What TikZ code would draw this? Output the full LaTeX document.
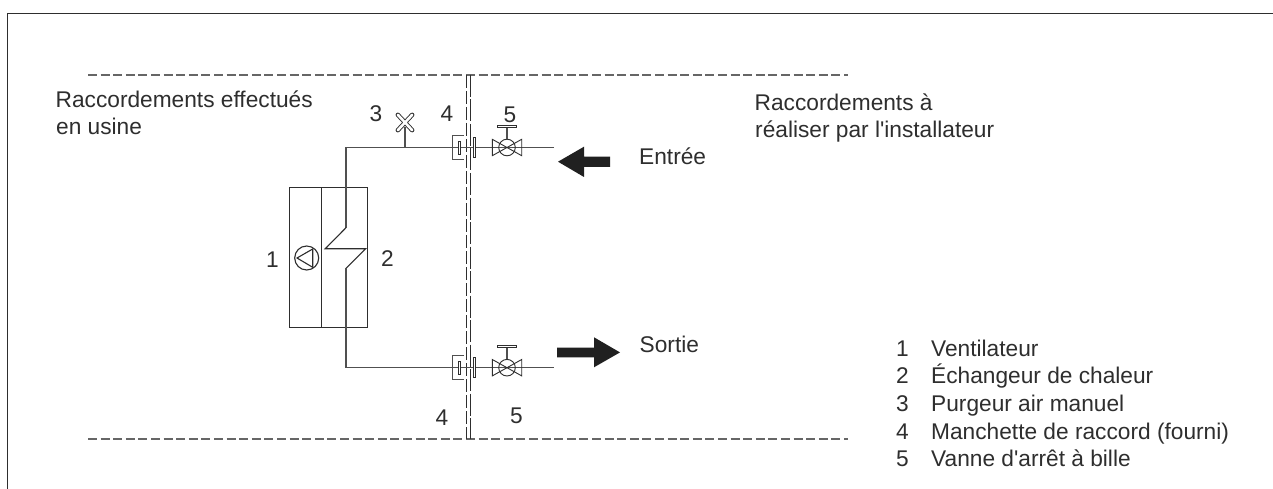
\documentclass[tikz,border=0pt]{standalone}
\usepackage{fontspec}
\setmainfont[Ligatures=TeXOff]{Liberation Sans}
\definecolor{ink}{HTML}{2E2E2E}
\definecolor{pipe}{HTML}{505050}
\definecolor{dash}{HTML}{666666}
\tikzset{
  lab/.style={inner sep=0pt,anchor=base west,text=ink,font=\fontsize{22.7pt}{26pt}\selectfont},
  lin/.style={draw=ink,line width=1.1pt},
  pipeline/.style={draw=pipe,line width=1.3pt},
  sep/.style={draw=dash,line width=1.1pt,dash pattern=on 9pt off 3.6pt},
  vsep/.style={draw=ink,line width=1.1pt,dash pattern=on 13pt off 3pt},
  thin/.style={draw=ink,line width=0.9pt},
  fat/.style={fill=ink!70!black,draw=none}
}
\newcommand{\valve}[2]{%
  \draw[thin] (#1-14.7,#2-8.2) -- (#1+14.7,#2+8.2) -- (#1+14.7,#2-8.2) -- (#1-14.7,#2+8.2) -- cycle;
  \draw[thin] (#1,#2) circle[radius=8.3];
  \draw[pipeline] (#1,#2-8.3) -- (#1,#2-21);
  \draw[thin,fill=white] (#1-9.2,#2-22) rectangle (#1+9.2,#2-20);
}
\newcommand{\fitting}[2]{%
  \draw[line width=1.1pt,draw=pipe] (#1+11.5,#2-12) -- (#1,#2-12) -- (#1,#2+12) -- (#1+11.5,#2+12);
  \draw[thin,fill=white] (#1+5.5,#2-6.5) rectangle (#1+7.5,#2+6.5);
  \draw[thin,fill=white] (#1+20.5,#2-9.8) rectangle (#1+23,#2+9.8);
}
\begin{document}
\begin{tikzpicture}[x=1pt,y=-1pt]
\useasboundingbox (0,0) rectangle (1273,489);
\fill[white] (0,0) rectangle (1273,489);
% frame
\coordinate (fa) at (7.5,489);
\coordinate (fb) at (7.5,13.5);
\coordinate (fc) at (1273,13.5);
\draw[line width=1.1pt,draw=ink] (fa) -- (fb) -- (fc);
% separators
\coordinate (tl) at (88,75); \coordinate (tr) at (848,75);
\coordinate (bl) at (88,439); \coordinate (br) at (848,439);
\draw[sep] (tl) -- (tr);
\draw[sep] (bl) -- (br);
\coordinate (v1a) at (466.5,75); \coordinate (v1b) at (466.5,439);
\coordinate (v2a) at (470,75); \coordinate (v2b) at (470,439);
\draw[vsep] (v1a) -- (v1b);
\draw[line width=1pt,draw=ink,dash pattern=on 22pt off 2.5pt] (v2a) -- (v2b);
% unit box
\node[draw=ink,line width=1.1pt,minimum width=78pt,minimum height=140pt,inner sep=0pt] (unit) at (328.5,257.5) {};
\coordinate (div1) at (321.5,187.5); \coordinate (div2) at (321.5,327.5);
\draw[lin] (div1) -- (div2);
% fan
\node[circle,draw=ink,line width=1.1pt,minimum size=24pt,inner sep=0pt] (fan) at (306.7,258) {};
\draw[lin,line join=miter] (297,258) -- (312.7,249) -- (312.7,267.3) -- cycle;
% pipes
\coordinate (ptop) at (554,147.5); \coordinate (pc) at (346,147.5);
\draw[pipeline] (ptop) -- (pc) -- (346,227.7);
\draw[lin] (346,227.7) -- (325.3,248.7) -- (365.7,248.7) -- (346,268.3);
\coordinate (pbot) at (554,367.7); \coordinate (pd) at (346,367.7);
\draw[pipeline] (346,268.3) -- (pd) -- (pbot);
% vent
\coordinate (v0) at (405,147.5); \coordinate (v1) at (405,127);
\draw[pipeline] (v0) -- (v1);
\draw[ink,line width=4.4pt,line cap=round] (397.8,114.8) -- (412.2,130.2) (412.2,114.8) -- (397.8,130.2);
\draw[white,line width=2.6pt,line cap=round] (397.8,114.8) -- (412.2,130.2) (412.2,114.8) -- (397.8,130.2);
% fittings and valves
\fitting{452.7}{147.5}
\fitting{452.7}{367.7}
\valve{507}{147.5}
\valve{507}{367.7}
% arrows
\fill[fat] (558,161.7) -- (584,146.7) -- (584,156.7) -- (610,156.7) -- (610,166.9) -- (584,166.9) -- (584,177) -- cycle;
\fill[fat] (557,347.7) -- (594,347.7) -- (594,337.3) -- (620,352.4) -- (594,367.3) -- (594,357.3) -- (557,357.3) -- cycle;
% texts
\node[lab] (t1) at (55.5,107.7) {Raccordements effectués};
\node[lab] (t2) at (56,134.3) {en usine};
\node[lab] (t3) at (754.5,111) {Raccordements à};
\node[lab] (t4) at (755,137.7) {réaliser par l'installateur};
\node[lab] (t5) at (639,164.3) {Entrée};
\node[lab] (t6) at (639.5,352.3) {Sortie};
\node[lab] (n3) at (369.5,122) {3};
\node[lab] (n4a) at (440.5,122) {4};
\node[lab] (n5a) at (503.5,123) {5};
\node[lab] (n1) at (266,267) {1};
\node[lab] (n2) at (381,266) {2};
\node[lab] (n4b) at (435.5,425) {4};
\node[lab] (n5b) at (510,423) {5};
\foreach \n/\s/\y in {1/Ventilateur/356, 2/Échangeur de chaleur/383.5, 3/Purgeur air manuel/411.5, 4/Manchette de raccord (fourni)/439, 5/Vanne d'arrêt à bille/466.3}{
  \node[lab] at (896,\y) {\n};
  \node[lab] at (931,\y) {\s};
}
\end{tikzpicture}
\end{document}
